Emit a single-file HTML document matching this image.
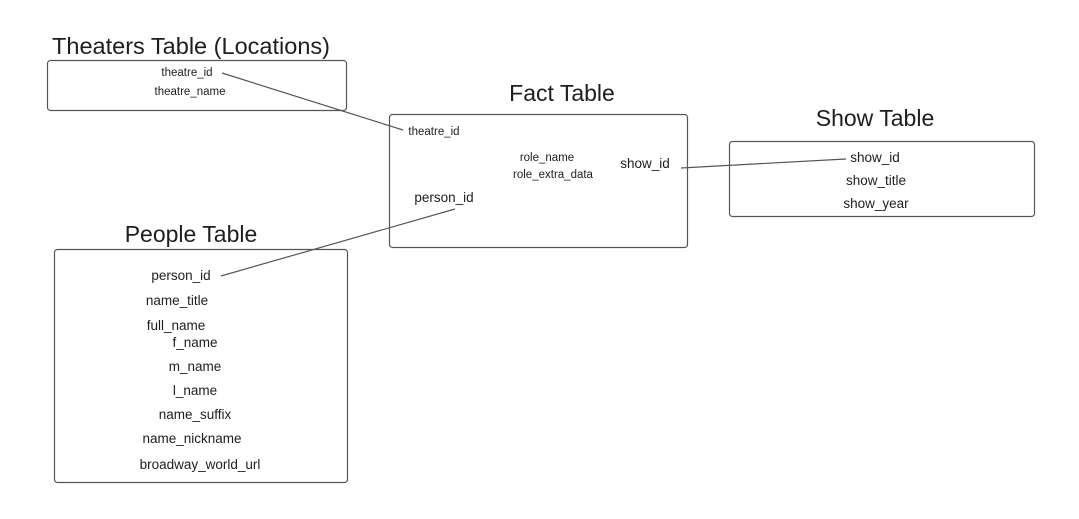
<!DOCTYPE html>
<html><head><style>body{margin:0;background:#fff}svg{display:block}</style></head><body>
<svg width="1079" height="519" viewBox="0 0 1079 519" xmlns="http://www.w3.org/2000/svg" font-family="Liberation Sans, sans-serif" fill="#1e1e1e">
<g fill="none" stroke="#555" stroke-width="1.2">
<rect x="47.5" y="60.5" width="299" height="50" rx="3"/>
<rect x="389.5" y="114.5" width="298" height="133" rx="3"/>
<rect x="729.5" y="141.5" width="305" height="75" rx="3"/>
<rect x="54.5" y="249.5" width="293" height="233" rx="3"/>
<line x1="222" y1="73" x2="403" y2="130"/>
<line x1="681" y1="168" x2="846" y2="159"/>
<line x1="221" y1="276" x2="455" y2="209"/>
</g>
<g font-size="23">
<text x="52" y="54" textLength="278" lengthAdjust="spacingAndGlyphs">Theaters Table (Locations)</text>
<text x="562" y="101" text-anchor="middle">Fact Table</text>
<text x="875" y="126" text-anchor="middle">Show Table</text>
<text x="191" y="242" text-anchor="middle">People Table</text>
</g>
<g font-size="11.5" text-anchor="middle">
<text x="187" y="76">theatre_id</text>
<text x="190" y="95">theatre_name</text>
<text x="434" y="135">theatre_id</text>
<text x="547" y="161">role_name</text>
<text x="553" y="178">role_extra_data</text>
</g>
<g font-size="13.5" text-anchor="middle">
<text x="645" y="168">show_id</text>
<text x="444" y="202">person_id</text>
<text x="875" y="162">show_id</text>
<text x="876" y="185">show_title</text>
<text x="876" y="208">show_year</text>
<text x="181" y="280">person_id</text>
<text x="177" y="305">name_title</text>
<text x="176" y="330">full_name</text>
<text x="195" y="347">f_name</text>
<text x="195" y="371">m_name</text>
<text x="195" y="395">l_name</text>
<text x="195" y="419">name_suffix</text>
<text x="192" y="443">name_nickname</text>
<text x="200" y="469">broadway_world_url</text>
</g>
</svg>
</body></html>
